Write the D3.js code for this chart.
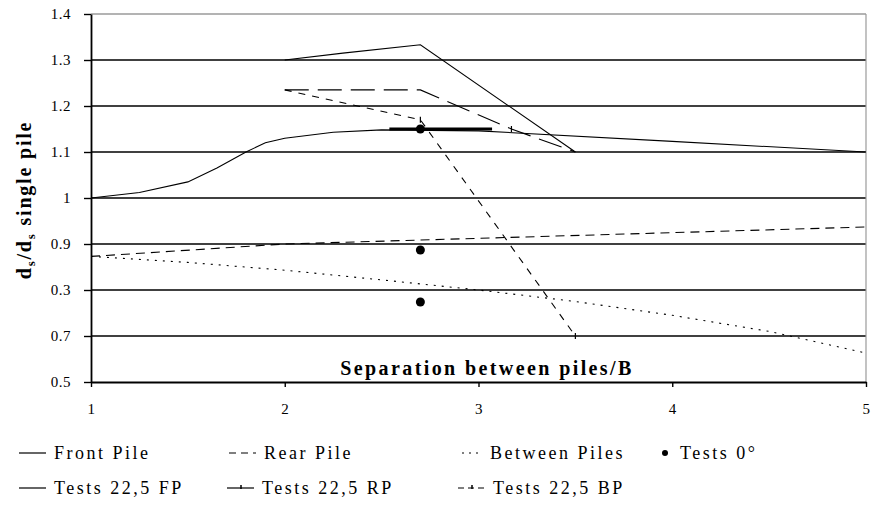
<!DOCTYPE html>
<html>
<head>
<meta charset="utf-8">
<script src="https://cdn.jsdelivr.net/npm/d3@7"></script>
<style>
  body { margin: 0; background: #fff; }
  svg { display: block; font-family: "Liberation Serif", "Times New Roman", serif; }
  svg text { font-family: "Liberation Serif", "Times New Roman", serif; }
  .grid line { stroke: #000; stroke-width: 1.6; }
  .series { fill: none; stroke: #000; stroke-width: 1.1; }
</style>
</head>
<body>
<div id="chart"></div>
<script>
// separation / B on x, ds/ds single pile on y
var frontX = [1, 1.25, 1.5, 1.65, 1.8, 1.9, 2, 2.25, 2.5, 3.0, 4.0, 5];
var frontY = [1.0, 1.012, 1.035, 1.065, 1.1, 1.12, 1.13, 1.143, 1.148, 1.146, 1.123, 1.1];

var rearX = [1, 2, 5];
var rearY = [0.873, 0.9, 0.937];

var betweenX = [1, 1.5, 2, 2.5, 3, 3.5, 4, 4.5, 5];
var betweenY = [0.873, 0.86, 0.843, 0.822, 0.8, 0.775, 0.745, 0.71, 0.663];

var tests0X = [2.7, 2.7, 2.7];
var tests0Y = [1.15, 0.887, 0.774];

var fpX = [2.0, 2.3, 2.7, 3.5];
var fpY = [1.30, 1.315, 1.333, 1.10];

var rpX = [2.0, 2.7, 3.17, 3.5];
var rpY = [1.235, 1.235, 1.15, 1.10];

var bpX = [2.0, 2.7, 3.5];
var bpY = [1.235, 1.17, 0.70];

// heavy segment drawn over the front pile curve
var heavyX = [2.54, 3.07];
var heavyY = [1.15, 1.15];

var xTicks = [1, 2, 3, 4, 5];
var yTicks = [1.4, 1.3, 1.2, 1.1, 1.0, 0.9, 0.8, 0.7, 0.6];
var yTickLabels = ["1.4", "1.3", "1.2", "1.1", "1", "0.9", "0.3", "0.7", "0.5"];

var width = 872, height = 510;
var serif = '"Liberation Serif", "Times New Roman", serif';

var x = d3.scaleLinear().domain([1, 5]).range([91, 866]);
var y = d3.scaleLinear().domain([0.6, 1.4]).range([382, 14]);

var svg = d3.select("#chart").append("svg")
    .attr("width", width)
    .attr("height", height);

// horizontal gridlines
svg.append("g")
    .attr("class", "grid")
  .selectAll("line")
    .data(yTicks.filter(function (d) { return d > 0.6 && d < 1.4; }))
  .enter().append("line")
    .attr("x1", x(1)).attr("x2", x(5))
    .attr("y1", function (d) { return y(d); })
    .attr("y2", function (d) { return y(d); });

// top and right frame are light grey
svg.append("line")
    .attr("x1", x(1)).attr("x2", x(5))
    .attr("y1", y(1.4)).attr("y2", y(1.4))
    .style("stroke", "#9a9a9a").style("stroke-width", 1.5);
svg.append("line")
    .attr("x1", x(5)).attr("x2", x(5))
    .attr("y1", y(1.4)).attr("y2", y(0.6))
    .style("stroke", "#9a9a9a").style("stroke-width", 1.2);

function pts(xs, ys) {
    return xs.map(function (d, i) { return [d, ys[i]]; });
}

var line = d3.line()
    .x(function (d) { return x(d[0]); })
    .y(function (d) { return y(d[1]); });

var series = [
    { xs: frontX, ys: frontY, dash: null },
    { xs: rearX, ys: rearY, dash: "9,6" },
    { xs: betweenX, ys: betweenY, dash: "2,6" },
    { xs: fpX, ys: fpY, dash: null },
    { xs: rpX, ys: rpY, dash: "24,9" },
    { xs: bpX, ys: bpY, dash: "7,7" }
];

svg.selectAll(".series")
    .data(series)
  .enter().append("path")
    .attr("class", "series")
    .attr("d", function (d) { return line(pts(d.xs, d.ys)); })
    .style("stroke-dasharray", function (d) { return d.dash; });

svg.append("path")
    .attr("d", line(pts(heavyX, heavyY)))
    .style("fill", "none").style("stroke", "#000").style("stroke-width", 3);

// small tick markers on the 22,5 test lines
svg.selectAll(".mark")
    .data([[rpX[2], rpY[2]], [bpX[1], bpY[1]], [bpX[2], bpY[2]]])
  .enter().append("line")
    .attr("class", "mark")
    .attr("x1", function (d) { return x(d[0]); })
    .attr("x2", function (d) { return x(d[0]); })
    .attr("y1", function (d) { return y(d[1]) - 3; })
    .attr("y2", function (d) { return y(d[1]) + 3; })
    .style("stroke", "#000").style("stroke-width", 1.2);

svg.selectAll(".dot")
    .data(pts(tests0X, tests0Y))
  .enter().append("circle")
    .attr("class", "dot")
    .attr("cx", function (d) { return x(d[0]); })
    .attr("cy", function (d) { return y(d[1]); })
    .attr("r", 4.5)
    .style("fill", "#000");

// axes
var yAxis = svg.append("g")
    .attr("transform", "translate(" + x(1) + ",0)")
    .call(d3.axisLeft(y).tickValues(yTicks).tickSize(7).tickPadding(13).tickSizeOuter(0)
        .tickFormat(function (d, i) { return yTickLabels[i]; }));

var xAxis = svg.append("g")
    .attr("transform", "translate(0," + y(0.6) + ")")
    .call(d3.axisBottom(x).tickValues(xTicks).tickSize(5).tickPadding(16).tickSizeOuter(0)
        .tickFormat(d3.format("d")));

[yAxis, xAxis].forEach(function (g) {
    g.attr("font-family", null);
    g.select(".domain").style("stroke", "#000").style("stroke-width", 1.8);
    g.selectAll(".tick line").style("stroke", "#000").style("stroke-width", 1.4);
    g.selectAll("text")
        .style("font-family", serif)
        .style("font-size", "15px")
        .style("letter-spacing", "0.5px")
        .style("fill", "#000");
});

// axis titles
svg.append("text")
    .attr("x", 487).attr("y", 375)
    .attr("text-anchor", "middle")
    .style("font-weight", "bold")
    .style("font-size", "20px")
    .style("letter-spacing", "2.4px")
    .text("Separation between piles/B");

var yt = svg.append("text")
    .attr("transform", "translate(31,200) rotate(-90)")
    .attr("text-anchor", "middle")
    .style("font-weight", "bold")
    .style("font-size", "20px")
    .style("letter-spacing", "1.8px");
yt.append("tspan").text("d");
yt.append("tspan").attr("dy", 4).style("font-size", "13px").text("s");
yt.append("tspan").attr("dy", -4).text("/d");
yt.append("tspan").attr("dy", 4).style("font-size", "13px").text("s");
yt.append("tspan").attr("dy", -4).text(" single pile");

// legend
var legendItems = [
    { label: "Front Pile", kind: "line", dash: null, x: 19, row: 0 },
    { label: "Rear Pile", kind: "line", dash: "7,5", x: 229, row: 0 },
    { label: "Between Piles", kind: "line", dash: "2,5", x: 462, row: 0 },
    { label: "Tests 0°", kind: "dot", dash: null, x: 661, row: 0 },
    { label: "Tests 22,5  FP", kind: "line", dash: null, x: 19, row: 1 },
    { label: "Tests 22,5  RP", kind: "tick", dash: null, x: 227, row: 1 },
    { label: "Tests 22,5  BP", kind: "tick", dash: "6,4", x: 458, row: 1 }
];
var rowY = [453, 488];

var legend = svg.selectAll(".legend")
    .data(legendItems)
  .enter().append("g")
    .attr("class", "legend")
    .attr("transform", function (d) { return "translate(" + d.x + "," + rowY[d.row] + ")"; });

legend.filter(function (d) { return d.kind !== "dot"; })
  .append("line")
    .attr("x1", 0).attr("x2", function (d) { return d.dash === "2,5" ? 20 : 27; })
    .attr("y1", 0).attr("y2", 0)
    .style("stroke", "#000").style("stroke-width", 1.2)
    .style("stroke-dasharray", function (d) { return d.dash; });

legend.filter(function (d) { return d.kind === "tick"; })
  .append("line")
    .attr("x1", 14).attr("x2", 14)
    .attr("y1", -3).attr("y2", 1)
    .style("stroke", "#000").style("stroke-width", 1.5);

legend.filter(function (d) { return d.kind === "dot"; })
  .append("circle")
    .attr("cx", 4).attr("cy", 0).attr("r", 3)
    .style("fill", "#000");

legend.append("text")
    .attr("x", function (d) {
        if (d.kind === "dot") return 19;
        return d.dash === "2,5" ? 28 : 35;
    })
    .attr("y", 6)
    .style("font-size", "18px")
    .style("letter-spacing", "2.5px")
    .text(function (d) { return d.label; });
</script>
</body>
</html>
